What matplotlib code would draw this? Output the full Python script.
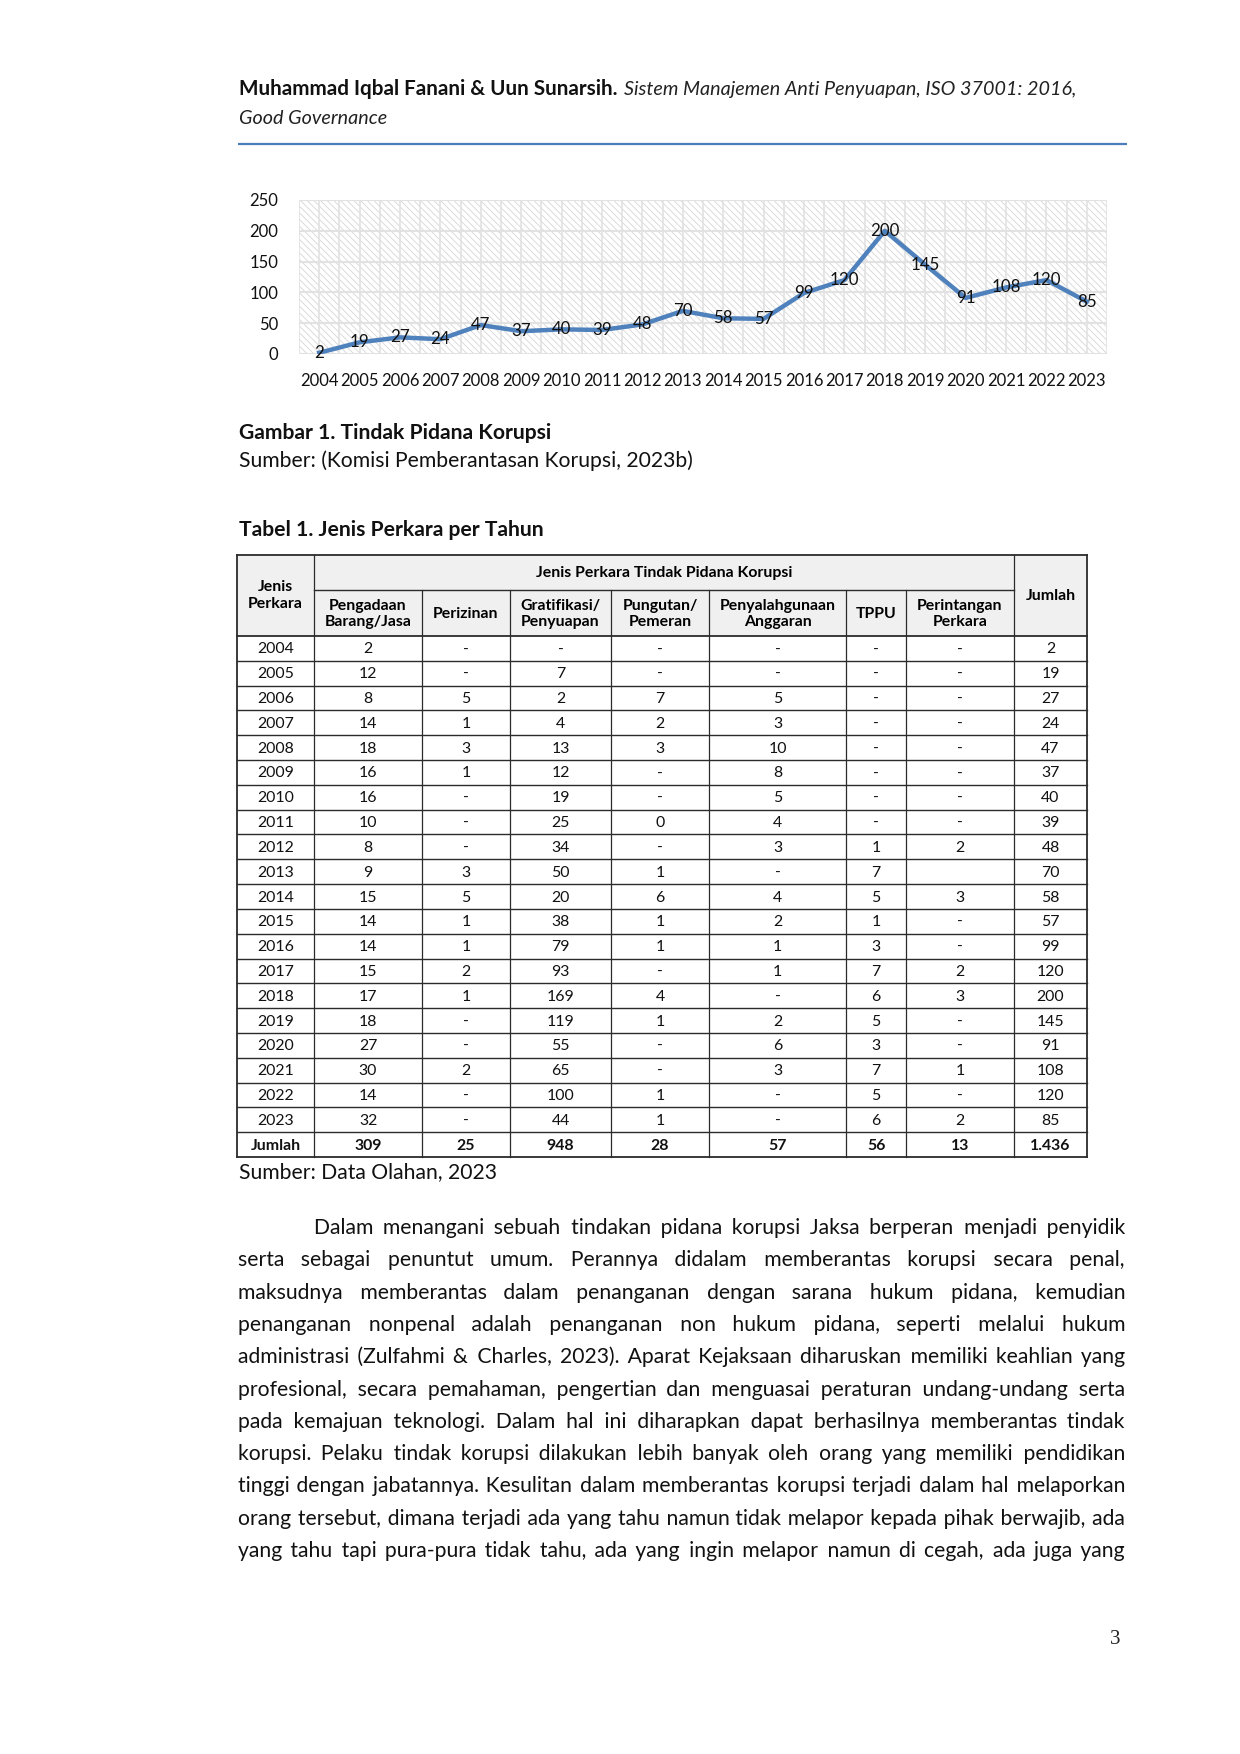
import numpy as np
import matplotlib
matplotlib.use("Agg")
import matplotlib.pyplot as plt
from matplotlib.patches import Rectangle

plt.rcParams['font.family'] = ['Lato', 'DejaVu Sans']
plt.rcParams['hatch.color'] = '#d6d6d6'
plt.rcParams['hatch.linewidth'] = 0.6

# chart data
years = ['2004', '2005', '2006', '2007', '2008', '2009', '2010', '2011', '2012', '2013',
         '2014', '2015', '2016', '2017', '2018', '2019', '2020', '2021', '2022', '2023']
totals = [2, 19, 27, 24, 47, 37, 40, 39, 48, 70, 58, 57, 99, 120, 200, 145, 91, 108, 120, 85]

# table data (one list per column)
col_headers = ['Pengadaan\nBarang/Jasa', 'Perizinan', 'Gratifikasi/\nPenyuapan', 'Pungutan/\nPemeran',
               'Penyalahgunaan\nAnggaran', 'TPPU', 'Perintangan\nPerkara']
pengadaan = ['2', '12', '8', '14', '18', '16', '16', '10', '8', '9', '15', '14', '14', '15', '17', '18', '27', '30', '14', '32']
perizinan = ['-', '-', '5', '1', '3', '1', '-', '-', '-', '3', '5', '1', '1', '2', '1', '-', '-', '2', '-', '-']
gratifikasi = ['-', '7', '2', '4', '13', '12', '19', '25', '34', '50', '20', '38', '79', '93', '169', '119', '55', '65', '100', '44']
pungutan = ['-', '-', '7', '2', '3', '-', '-', '0', '-', '1', '6', '1', '1', '-', '4', '1', '-', '-', '1', '1']
penyalahgunaan = ['-', '-', '5', '3', '10', '8', '5', '4', '3', '-', '4', '2', '1', '1', '-', '2', '6', '3', '-', '-']
tppu = ['-', '-', '-', '-', '-', '-', '-', '-', '1', '7', '5', '1', '3', '7', '6', '5', '3', '7', '5', '6']
perintangan = ['-', '-', '-', '-', '-', '-', '-', '-', '2', '', '3', '-', '-', '2', '3', '-', '-', '1', '-', '2']
jumlah_row = ['Jumlah', '309', '25', '948', '28', '57', '56', '13', '1.436']

paragraph = [
    "Dalam menangani sebuah tindakan pidana korupsi Jaksa berperan menjadi penyidik",
    "serta sebagai penuntut umum. Perannya didalam memberantas korupsi secara penal,",
    "maksudnya memberantas dalam penanganan dengan sarana hukum pidana, kemudian",
    "penanganan nonpenal adalah penanganan non hukum pidana, seperti melalui hukum",
    "administrasi (Zulfahmi & Charles, 2023). Aparat Kejaksaan diharuskan memiliki keahlian yang",
    "profesional, secara pemahaman, pengertian dan menguasai peraturan undang-undang serta",
    "pada kemajuan teknologi. Dalam hal ini diharapkan dapat berhasilnya memberantas tindak",
    "korupsi. Pelaku tindak korupsi dilakukan lebih banyak oleh orang yang memiliki pendidikan",
    "tinggi dengan jabatannya. Kesulitan dalam memberantas korupsi terjadi dalam hal melaporkan",
    "orang tersebut, dimana terjadi ada yang tahu namun tidak melapor kepada pihak berwajib, ada",
    "yang tahu tapi pura-pura tidak tahu, ada yang ingin melapor namun di cegah, ada juga yang",
]

W, H = 1240, 1754
fig = plt.figure(figsize=(W / 100, H / 100), dpi=100)
page = fig.add_axes([0, 0, 1, 1])
page.set_xlim(0, W)
page.set_ylim(H, 0)
page.axis('off')
renderer = fig.canvas.get_renderer()

def text_width(t):
    return t.get_window_extent(renderer).width

def str_width(s, **kw):
    tt = page.text(0, 0, s, **kw)
    wd = text_width(tt)
    tt.remove()
    return wd

body = 15.2
ink = '#111111'

# running header
t = page.text(239, 95, "Muhammad Iqbal Fanani & Uun Sunarsih.", fontsize=14.9, fontweight='bold',
              va='baseline', color=ink)
w = text_width(t)
page.text(239 + w + 6, 95, "Sistem Manajemen Anti Penyuapan, ISO 37001: 2016,", fontsize=14.2,
          fontstyle='italic', va='baseline', color='#222222')
page.text(239, 124, "Good Governance", fontsize=14.2, fontstyle='italic', va='baseline', color='#222222')
page.plot([238, 1127], [144, 144], color='#4a7ebb', lw=1.6, solid_capstyle='butt')

# line chart
ax = fig.add_axes([299 / W, 1 - 354 / H, 808 / W, 154 / H])
ax.set_facecolor('white')
ax.add_patch(Rectangle((0, 0), 1, 1, transform=ax.transAxes, facecolor='white',
                       hatch='\\\\\\\\\\', linewidth=0, zorder=0.1))
x = np.arange(len(years))
ax.plot(x, totals, color='#4f81bd', lw=3.2, solid_joinstyle='round', zorder=3)
for xi, v in zip(x, totals):
    ax.text(xi, v, str(v), ha='center', va='center', fontsize=12.2, color=ink, zorder=4)
ax.set_xlim(-0.5, len(years) - 0.5)
ax.set_ylim(0, 250)
ax.set_yticks(range(0, 251, 50))
ax.set_xticks(x)
ax.set_xticklabels(years)
ax.set_xticks(np.arange(-0.5, len(years), 1), minor=True)
ax.set_axisbelow(True)
ax.grid(True, which='both', axis='x', color='#e2e2e2', lw=1.2)
ax.grid(True, which='major', axis='y', color='#e2e2e2', lw=1.5)
for s in ax.spines.values():
    s.set_visible(False)
ax.tick_params(axis='both', which='both', length=0, labelsize=12, colors=ink)
ax.tick_params(axis='x', pad=14)
ax.tick_params(axis='y', pad=15)

# captions
page.text(239, 439, "Gambar 1. Tindak Pidana Korupsi", fontsize=body, fontweight='bold', va='baseline', color=ink)
page.text(239, 467, "Sumber: (Komisi Pemberantasan Korupsi, 2023b)", fontsize=body, va='baseline', color=ink)
page.text(239, 536, "Tabel 1. Jenis Perkara per Tahun", fontsize=body, fontweight='bold', va='baseline', color=ink)

# table
cols_x = [237, 314, 422, 510, 611, 709, 846, 906, 1014, 1087]
top, h1, h2, bottom = 555, 590, 636, 1157
columns = [pengadaan, perizinan, gratifikasi, pungutan, penyalahgunaan, tppu, perintangan]
n_rows = len(years) + 1
row_h = (bottom - h2) / n_rows

page.add_patch(Rectangle((cols_x[0], top), cols_x[-1] - cols_x[0], h2 - top,
                         facecolor='#f0f0f0', edgecolor='none', zorder=1))
lc = '#2b2b2b'
page.plot([cols_x[0], cols_x[-1]], [top, top], color=lc, lw=1.3, zorder=2)
page.plot([cols_x[1], cols_x[-2]], [h1, h1], color=lc, lw=1.0, zorder=2)
for i in range(n_rows + 1):
    yy = h2 + i * row_h
    page.plot([cols_x[0], cols_x[-1]], [yy, yy], color=lc, lw=1.3 if i in (0, n_rows) else 1.0, zorder=2)
for j, xx in enumerate(cols_x):
    if j in (0, len(cols_x) - 1, 1, len(cols_x) - 2):
        y0 = top
    else:
        y0 = h1
    page.plot([xx, xx], [y0, bottom], color=lc, lw=1.3 if j in (0, len(cols_x) - 1) else 0.9, zorder=2)

tfs = 11.4
page.text((cols_x[0] + cols_x[1]) / 2, (top + h2) / 2, "Jenis\nPerkara", ha='center', va='center',
          fontsize=tfs, fontweight='bold', linespacing=1.3, zorder=3)
page.text((cols_x[1] + cols_x[-2]) / 2, (top + h1) / 2, "Jenis Perkara Tindak Pidana Korupsi", ha='center',
          va='center', fontsize=tfs, fontweight='bold', zorder=3)
page.text((cols_x[-2] + cols_x[-1]) / 2, (top + h2) / 2, "Jumlah", ha='center', va='center',
          fontsize=tfs, fontweight='bold', zorder=3)
for j, hdr in enumerate(col_headers):
    page.text((cols_x[j + 1] + cols_x[j + 2]) / 2, (h1 + h2) / 2 + 1, hdr, ha='center', va='center',
              fontsize=tfs, fontweight='bold', linespacing=1.25, zorder=3)

for i, yr in enumerate(years):
    yb = h2 + (i + 0.5) * row_h + 5
    cells = [yr] + [c[i] for c in columns] + [str(totals[i])]
    for j, val in enumerate(cells):
        page.text((cols_x[j] + cols_x[j + 1]) / 2, yb, val, ha='center', va='baseline',
                  fontsize=tfs, color=ink, zorder=3)
yb = h2 + (n_rows - 0.5) * row_h + 5
for j, val in enumerate(jumlah_row):
    page.text((cols_x[j] + cols_x[j + 1]) / 2, yb, val, ha='center', va='baseline',
              fontsize=tfs, fontweight='bold', color=ink, zorder=3)

page.text(239, 1178, "Sumber: Data Olahan, 2023", fontsize=body, va='baseline', color=ink)

# justified paragraph: one text per line, gaps padded with hair spaces
left, right = 238, 1125
indent = 314
line_y0, line_step = 1234, 32.3
HAIR = '\u200a'
space_w = (str_width('x x', fontsize=body) - str_width('xx', fontsize=body))
hair_w = (str_width('x' + HAIR * 20 + 'x', fontsize=body) - str_width('xx', fontsize=body)) / 20
for k, line in enumerate(paragraph):
    words = line.split(' ')
    x0 = indent if k == 0 else left
    y = line_y0 + k * line_step
    widths = [str_width(wd, fontsize=body) for wd in words]
    gap = (right - x0 - sum(widths)) / (len(words) - 1)
    s = words[0]
    target = 0.0
    actual = 0.0
    for wd in words[1:]:
        target += gap
        n = max(0, int(round((target - actual - space_w) / hair_w))) if hair_w > 0.2 else 0
        s += ' ' + HAIR * n
        actual += space_w + n * hair_w
        s += wd
    page.text(x0, y, s, fontsize=body, va='baseline', color=ink)

# page number
page.text(1115, 1640, "3", fontsize=15, family='Liberation Serif', ha='center', va='center', color='#222222')

fig.savefig('out.png', dpi=100)
